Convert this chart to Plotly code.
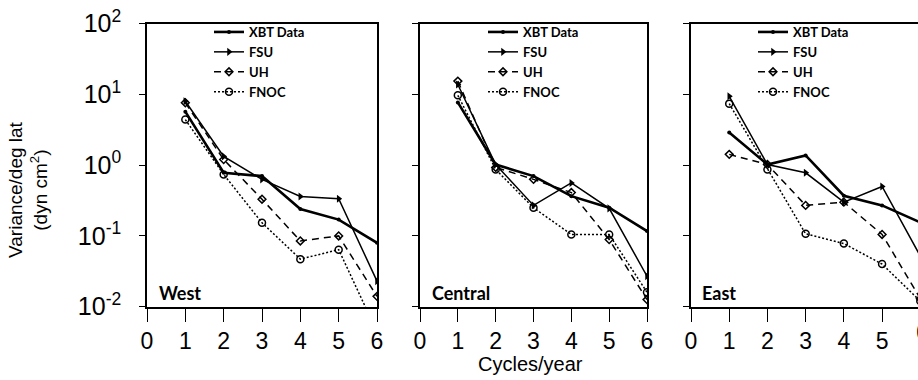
import plotly.graph_objects as go

freq = [1, 2, 3, 4, 5, 6]
xticks = [0, 1, 2, 3, 4, 5, 6]
ytick_vals = [0.01, 0.1, 1, 10, 100]
ytick_text = ["10<sup>-2</sup>", "10<sup>-1</sup>", "10<sup>0</sup>", "10<sup>1</sup>", "10<sup>2</sup>"]
series_names = ["XBT Data", "FSU", "UH", "FNOC"]
panel_names = ["West", "Central", "East"]

west_xbt = [5.7, 0.78, 0.70, 0.24, 0.17, 0.080]
west_fsu = [8.0, 1.33, 0.63, 0.36, 0.335, 0.023]
west_uh = [7.6, 1.2, 0.33, 0.085, 0.10, 0.014]
west_fnoc = [4.4, 0.74, 0.153, 0.047, 0.064, 0.0044]

central_xbt = [7.7, 1.02, 0.70, 0.365, 0.25, 0.117]
central_fsu = [13.8, 1.02, 0.27, 0.56, 0.245, 0.027]
central_uh = [15.4, 0.93, 0.63, 0.41, 0.089, 0.0126]
central_fnoc = [9.7, 0.87, 0.25, 0.105, 0.105, 0.016]

east_xbt = [2.9, 1.02, 1.37, 0.37, 0.27, 0.155]
east_fsu = [9.4, 1.02, 0.78, 0.30, 0.50, 0.052]
east_uh = [1.42, 1.02, 0.27, 0.30, 0.105, 0.013]
east_fnoc = [7.4, 0.87, 0.107, 0.078, 0.040, 0.012]

panels = [
    [west_xbt, west_fsu, west_uh, west_fnoc],
    [central_xbt, central_fsu, central_uh, central_fnoc],
    [east_xbt, east_fsu, east_uh, east_fnoc],
]

W, H = 918, 380
xdomains = [[147 / W, 377 / W], [420 / W, 647 / W], [691 / W, 1.0]]
xranges = [[0, 6], [0, 6], [0, 5.94]]
ydomain = [1 - 306.7 / H, 1 - 23.6 / H]

styles = [
    dict(line=dict(color="black", width=2.6, dash="solid"),
         marker=dict(symbol="circle", size=4, color="black")),
    dict(line=dict(color="black", width=1.5, dash="solid"),
         marker=dict(symbol="triangle-right", size=7, color="black")),
    dict(line=dict(color="black", width=1.5, dash="7px,5px"),
         marker=dict(symbol="diamond-open", size=6, color="black", line=dict(width=1.5))),
    dict(line=dict(color="black", width=1.5, dash="2px,2px"),
         marker=dict(symbol="circle-open", size=7, color="black", line=dict(width=1.5))),
]

fig = go.Figure()
legend_keys = ["legend", "legend2", "legend3"]
for p, data in enumerate(panels):
    ax = "" if p == 0 else str(p + 1)
    for s, vals in enumerate(data):
        fig.add_trace(go.Scatter(
            x=freq, y=vals, mode="lines+markers", name=series_names[s],
            xaxis="x" + ax, yaxis="y" + ax, legend=legend_keys[p],
            line=styles[s]["line"], marker=styles[s]["marker"],
        ))

num_family = "Liberation Sans Narrow, Liberation Sans, sans-serif"
tickfont = dict(family=num_family, size=23, color="black")
layout = dict(width=W, height=H, margin=dict(l=0, r=0, t=0, b=0, autoexpand=False),
              paper_bgcolor="white", plot_bgcolor="white", showlegend=True)

for p in range(3):
    ax = "" if p == 0 else str(p + 1)
    layout["xaxis" + ax] = dict(
        domain=xdomains[p], range=xranges[p], anchor="y" + ax, automargin=False,
        tickmode="array", tickvals=xticks, ticktext=[str(t) for t in xticks],
        ticks="outside", ticklen=13, tickwidth=1.3, tickcolor="black",
        showline=True, linecolor="black", linewidth=1.6, mirror=True,
        showgrid=False, zeroline=False, tickfont=tickfont,
    )
    layout["yaxis" + ax] = dict(
        domain=ydomain, type="log", range=[-2, 2], anchor="x" + ax, automargin=False,
        tickmode="array", tickvals=ytick_vals, ticktext=ytick_text,
        showticklabels=(p == 0), ticklabelstandoff=13,
        ticks="outside", ticklen=6, tickwidth=1.3, tickcolor="black",
        showline=True, linecolor="black", linewidth=1.6, mirror=(p < 2),
        showgrid=False, zeroline=False,
        tickfont=dict(family=num_family, size=25, color="black"),
    )

legend_x = [209 / W, 483 / W, 753 / W]
for p in range(3):
    layout[legend_keys[p]] = dict(
        x=legend_x[p], y=1 - 17 / H, xanchor="left", yanchor="top",
        bgcolor="rgba(0,0,0,0)", borderwidth=0, tracegroupgap=0,
        font=dict(family="Lato, Open Sans, sans-serif", size=13, color="black", weight="bold"),
        itemwidth=30,
    )

label_font = dict(family="Lato, Open Sans, sans-serif", size=18, color="black", weight="bold")
panel_label_x = [157 / W, 430 / W, 700 / W]
annotations = []
for p in range(3):
    annotations.append(dict(text=panel_names[p], x=panel_label_x[p], y=1 - 293 / H,
                            xref="paper", yref="paper", xanchor="left", yanchor="middle",
                            showarrow=False, font=label_font))
annotations.append(dict(text="6", x=5.84, xref="x3", y=1 - 332 / H, yref="paper",
                        xanchor="left", yanchor="middle", showarrow=False, font=tickfont))
annotations.append(dict(text="Variance/deg lat<br>(dyn cm<sup>2</sup>)", x=28 / W, y=1 - 190 / H,
                        xref="paper", yref="paper", xanchor="center", yanchor="middle",
                        textangle=-90, showarrow=False,
                        font=dict(family=num_family, size=19, color="black")))
annotations.append(dict(text="Cycles/year", x=530 / W, y=1 - 364 / H, xref="paper", yref="paper",
                        xanchor="center", yanchor="middle", showarrow=False,
                        font=dict(family=num_family, size=20, color="black")))
layout["annotations"] = annotations

fig.update_layout(**layout)
fig.write_html("out.html")
